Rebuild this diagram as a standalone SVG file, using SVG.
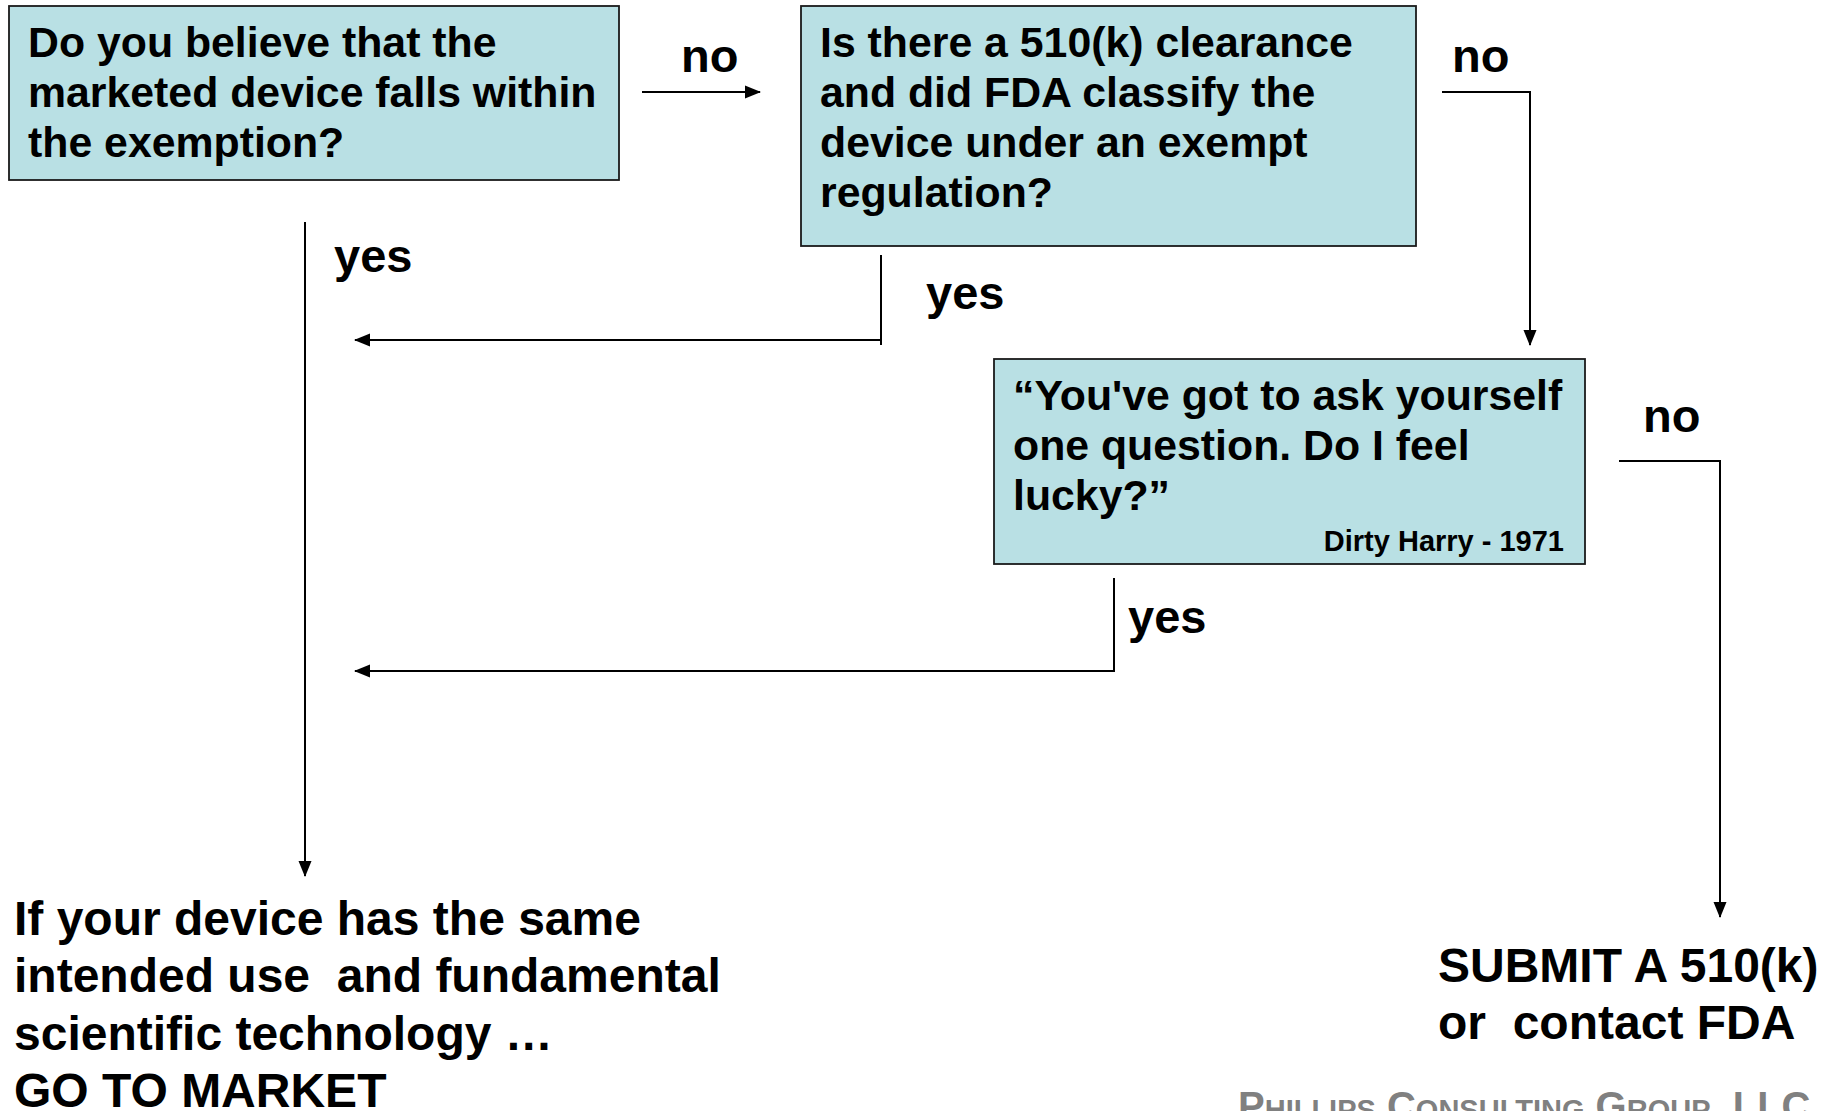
<svg xmlns="http://www.w3.org/2000/svg" width="1826" height="1111" viewBox="0 0 1826 1111">
<defs>
<style>
.box{fill:#B9E0E4;stroke:#1a1a1a;stroke-width:1.8}
.t{font-family:"Liberation Sans",Arial,sans-serif;font-weight:bold;fill:#000}
.t42{font-size:42.8px}
.lbl{font-size:47px}
.t48{font-size:48px}
.t28{font-size:29px}
.conn{fill:none;stroke:#000;stroke-width:2}
.foot{font-family:"Liberation Sans",Arial,sans-serif;font-weight:bold;fill:#808080}
</style>
<marker id="ah" markerUnits="userSpaceOnUse" markerWidth="16" markerHeight="14" refX="15" refY="7" orient="auto">
<path d="M0,0.5 L16,7 L0,13.5 Z" fill="#000"/>
</marker>
</defs>
<rect width="1826" height="1111" fill="#fff"/>

<g id="connectors">
<path class="conn" d="M642,92 H760" marker-end="url(#ah)"/>
<path class="conn" d="M1442,92 H1530 V345" marker-end="url(#ah)"/>
<path class="conn" d="M881,255 V345"/>
<path class="conn" d="M881,340 H355" marker-end="url(#ah)"/>
<path class="conn" d="M305,222 V876" marker-end="url(#ah)"/>
<path class="conn" d="M1619,461 H1720 V917" marker-end="url(#ah)"/>
<path class="conn" d="M1114,578 V671 H355" marker-end="url(#ah)"/>
</g>

<g id="labels">
<text class="t lbl" x="681" y="72">no</text>
<text class="t lbl" x="1452" y="72">no</text>
<text class="t lbl" x="1643" y="432">no</text>
<text class="t lbl" x="334" y="272">yes</text>
<text class="t lbl" x="926" y="309">yes</text>
<text class="t lbl" x="1128" y="633">yes</text>
</g>

<g id="q1">
<rect class="box" x="9" y="6" width="610" height="174"/>
<text class="t t42"><tspan x="28" y="57">Do you believe that the</tspan><tspan x="28" y="107">marketed device falls within</tspan><tspan x="28" y="157">the exemption?</tspan></text>
</g>

<g id="q2">
<rect class="box" x="801" y="6" width="615" height="240"/>
<text class="t t42"><tspan x="820" y="57">Is there a 510(k) clearance</tspan><tspan x="820" y="107">and did FDA classify the</tspan><tspan x="820" y="157">device under an exempt</tspan><tspan x="820" y="207">regulation?</tspan></text>
</g>

<g id="q3">
<rect class="box" x="994" y="359" width="591" height="205"/>
<text class="t t42"><tspan x="1013" y="410">“You've got to ask yourself</tspan><tspan x="1013" y="460">one question. Do I feel</tspan><tspan x="1013" y="510">lucky?”</tspan></text>
<text class="t t28" x="1564" y="551" text-anchor="end">Dirty Harry - 1971</text>
</g>

<g id="market">
<text class="t t48" xml:space="preserve"><tspan x="14" y="935">If your device has the same</tspan><tspan x="14" y="992">intended use  and fundamental</tspan><tspan x="14" y="1050">scientific technology …</tspan><tspan x="14" y="1107">GO TO MARKET</tspan></text>
</g>

<g id="submit">
<text class="t t48" xml:space="preserve"><tspan x="1438" y="982">SUBMIT A 510(k)</tspan><tspan x="1438" y="1039">or  contact FDA</tspan></text>
</g>

<g id="footer">
<text class="foot" x="1238" y="1120" font-size="40">P<tspan font-size="29">HILLIPS</tspan> C<tspan font-size="29">ONSULTING</tspan> G<tspan font-size="29">ROUP</tspan>, LLC</text>
</g>
</svg>
